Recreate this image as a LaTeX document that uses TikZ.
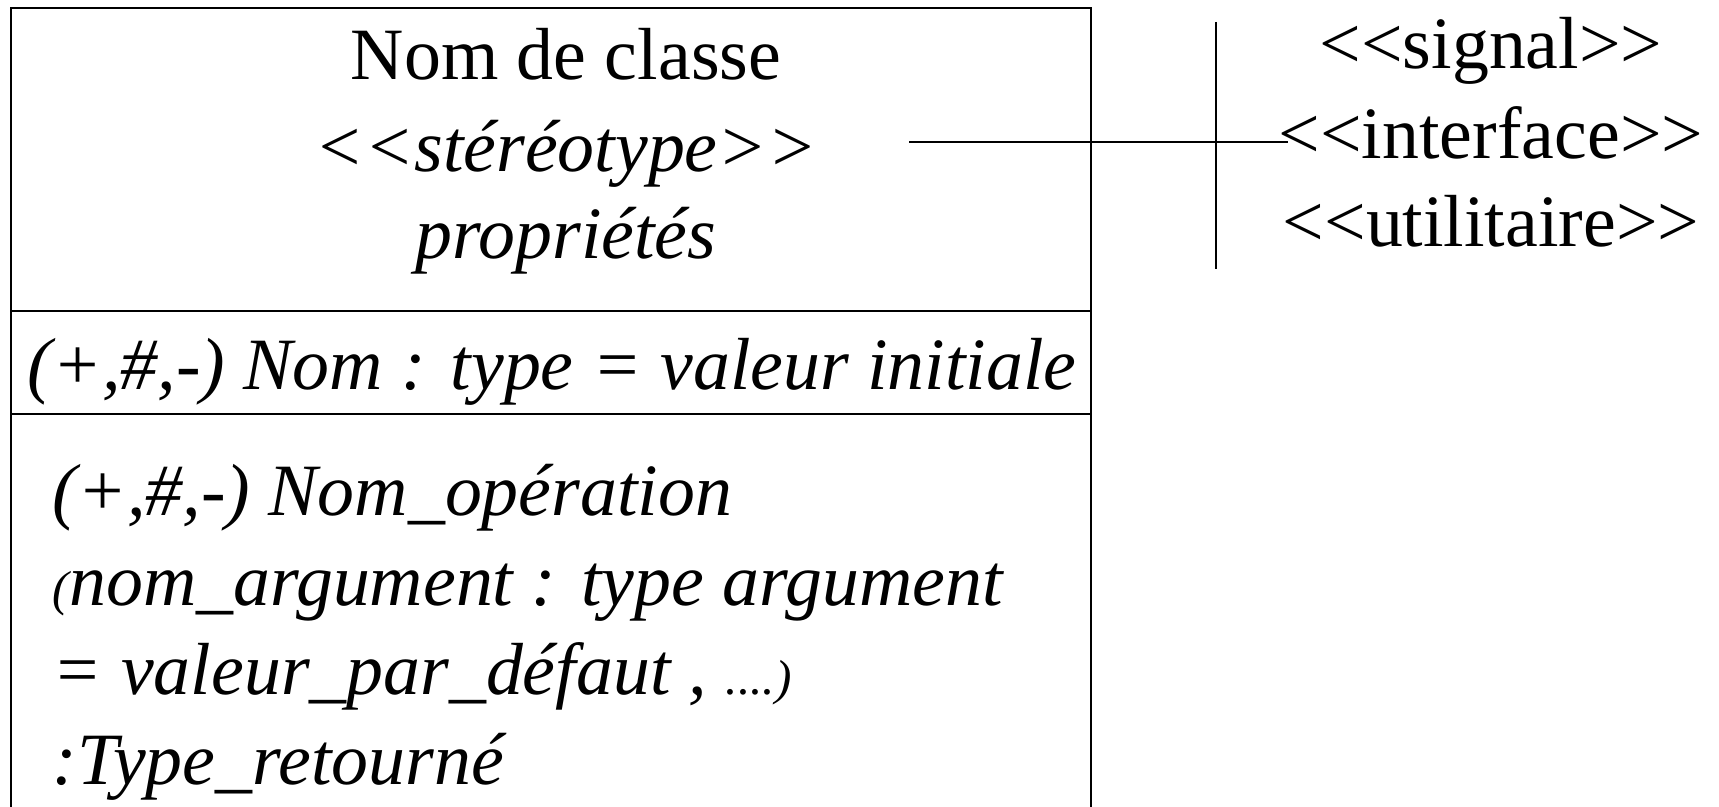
\documentclass[tikz,border=0pt]{standalone}
\usepackage{fontspec}
\setmainfont{Liberation Serif}
\usetikzlibrary{positioning}

\newcommand\guilo{<\kern0pt<}
\newcommand\guilf{>\kern0pt>}
\newcommand\petit{\fontsize{28}{28}\selectfont}

\tikzset{
  txt/.style={inner sep=0pt, anchor=base, font=\fontsize{42}{50}\selectfont},
  itxt/.style={txt, font=\fontsize{42}{50}\selectfont\itshape},
  optxt/.style={itxt, anchor=base west},
}

\begin{document}
\begin{tikzpicture}[x=0.02cm, y=-0.02cm, line width=1.1pt]
		\useasboundingbox (0,0) rectangle (1719,807);

		\draw (11,807) -- (11,8) -- (1091,8) -- (1091,807);
		\draw (11,311) -- (1091,311);
		\draw (11,414) -- (1091,414);

		\node[txt] (nom) at (566,80) {Nom de classe};
		\node[itxt] (stereo) at (566,172) {\guilo stéréotype\guilf};
		\node[itxt] (props) at (566,259) {propriétés};

		\node[optxt] (attr) at (27,389) {(+,\#,-) Nom : type = valeur initiale};

		\node[optxt] (op1) at (52,515) {(+,\#,-) Nom\_opération};
		\node[optxt] (op2) at (52,605) {{\petit(}nom\_argument : type argument};
		\node[optxt] (op3) at (52,694) {= valeur\_par\_défaut , {\petit....)}};
		\node[optxt] (op4) at (52,784) {:Type\_retourné};

		\node[txt] (signal) at (1491,69) {\guilo signal\guilf};
		\node[txt] (iface) at (1491,159) {\guilo interface\guilf};
		\node[txt] (util) at (1491,247) {\guilo utilitaire\guilf};

		\coordinate (stubL) at (909,142);
		\coordinate (stubR) at (1288,142);
		\coordinate (barT) at (1216,22);
		\coordinate (barB) at (1216,269);
		\draw (stubL) -- (stubR);
		\draw[line width=0.9pt] (barT) -- (barB);
	\end{tikzpicture}
\end{document}
